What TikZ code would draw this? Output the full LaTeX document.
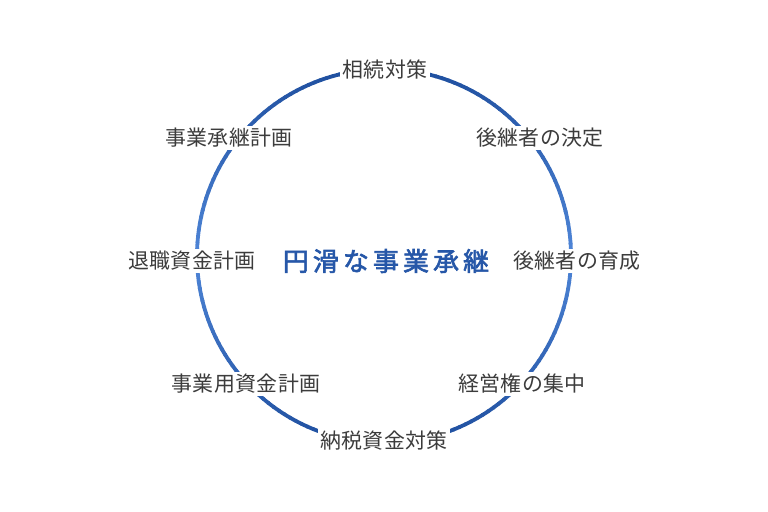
\documentclass[tikz,border=0pt]{standalone}
\usepackage{fontspec}
\newfontfamily\jp{Noto Sans CJK JP}[LetterSpace=2]
\newfontfamily\jpc{Noto Sans CJK JP}[LetterSpace=16, FakeBold=2.4]
\definecolor{ringdark}{HTML}{1F4F9F}
\definecolor{ringlight}{HTML}{4F86D8}
\definecolor{labelgray}{HTML}{3C3C3C}
\definecolor{centerblue}{HTML}{2657A8}
\tikzset{
  lbl/.style={fill=white, inner sep=2.5bp, text=labelgray, font=\jp\fontsize{21}{25}\selectfont},
  ctr/.style={inner sep=0pt, text=centerblue, font=\jpc\fontsize{26}{30}\selectfont}
}
\begin{document}
\begin{tikzpicture}[x=1bp,y=-1bp]
\useasboundingbox (0,0) rectangle (768,512);
\fill[white] (0,0) rectangle (768,512);
\coordinate (c) at (384,256);
\foreach \a in {0,2,...,358}{
  \pgfmathsetmacro{\m}{round(abs(sin(\a+1))*100)}
  \draw[line width=3.8bp, color=ringdark!\m!ringlight, line cap=round]
    ([shift={(\a:187)}]c) arc[start angle=\a, end angle=\a+2.3, radius=187];
}
\node[lbl] (t) at (385,70) {相続対策};
\node[lbl] (tr) at (540,138) {後継者の決定};
\node[lbl] (r) at (577,261) {後継者の育成};
\node[lbl] (br) at (522,384) {経営権の集中};
\node[lbl] (b) at (384,441) {納税資金対策};
\node[lbl] (bl) at (246,384) {事業用資金計画};
\node[lbl] (l) at (192,261) {退職資金計画};
\node[lbl] (tl) at (229,138) {事業承継計画};
\node[ctr] (m) at (386,261) {円滑な事業承継};
\end{tikzpicture}
\end{document}
